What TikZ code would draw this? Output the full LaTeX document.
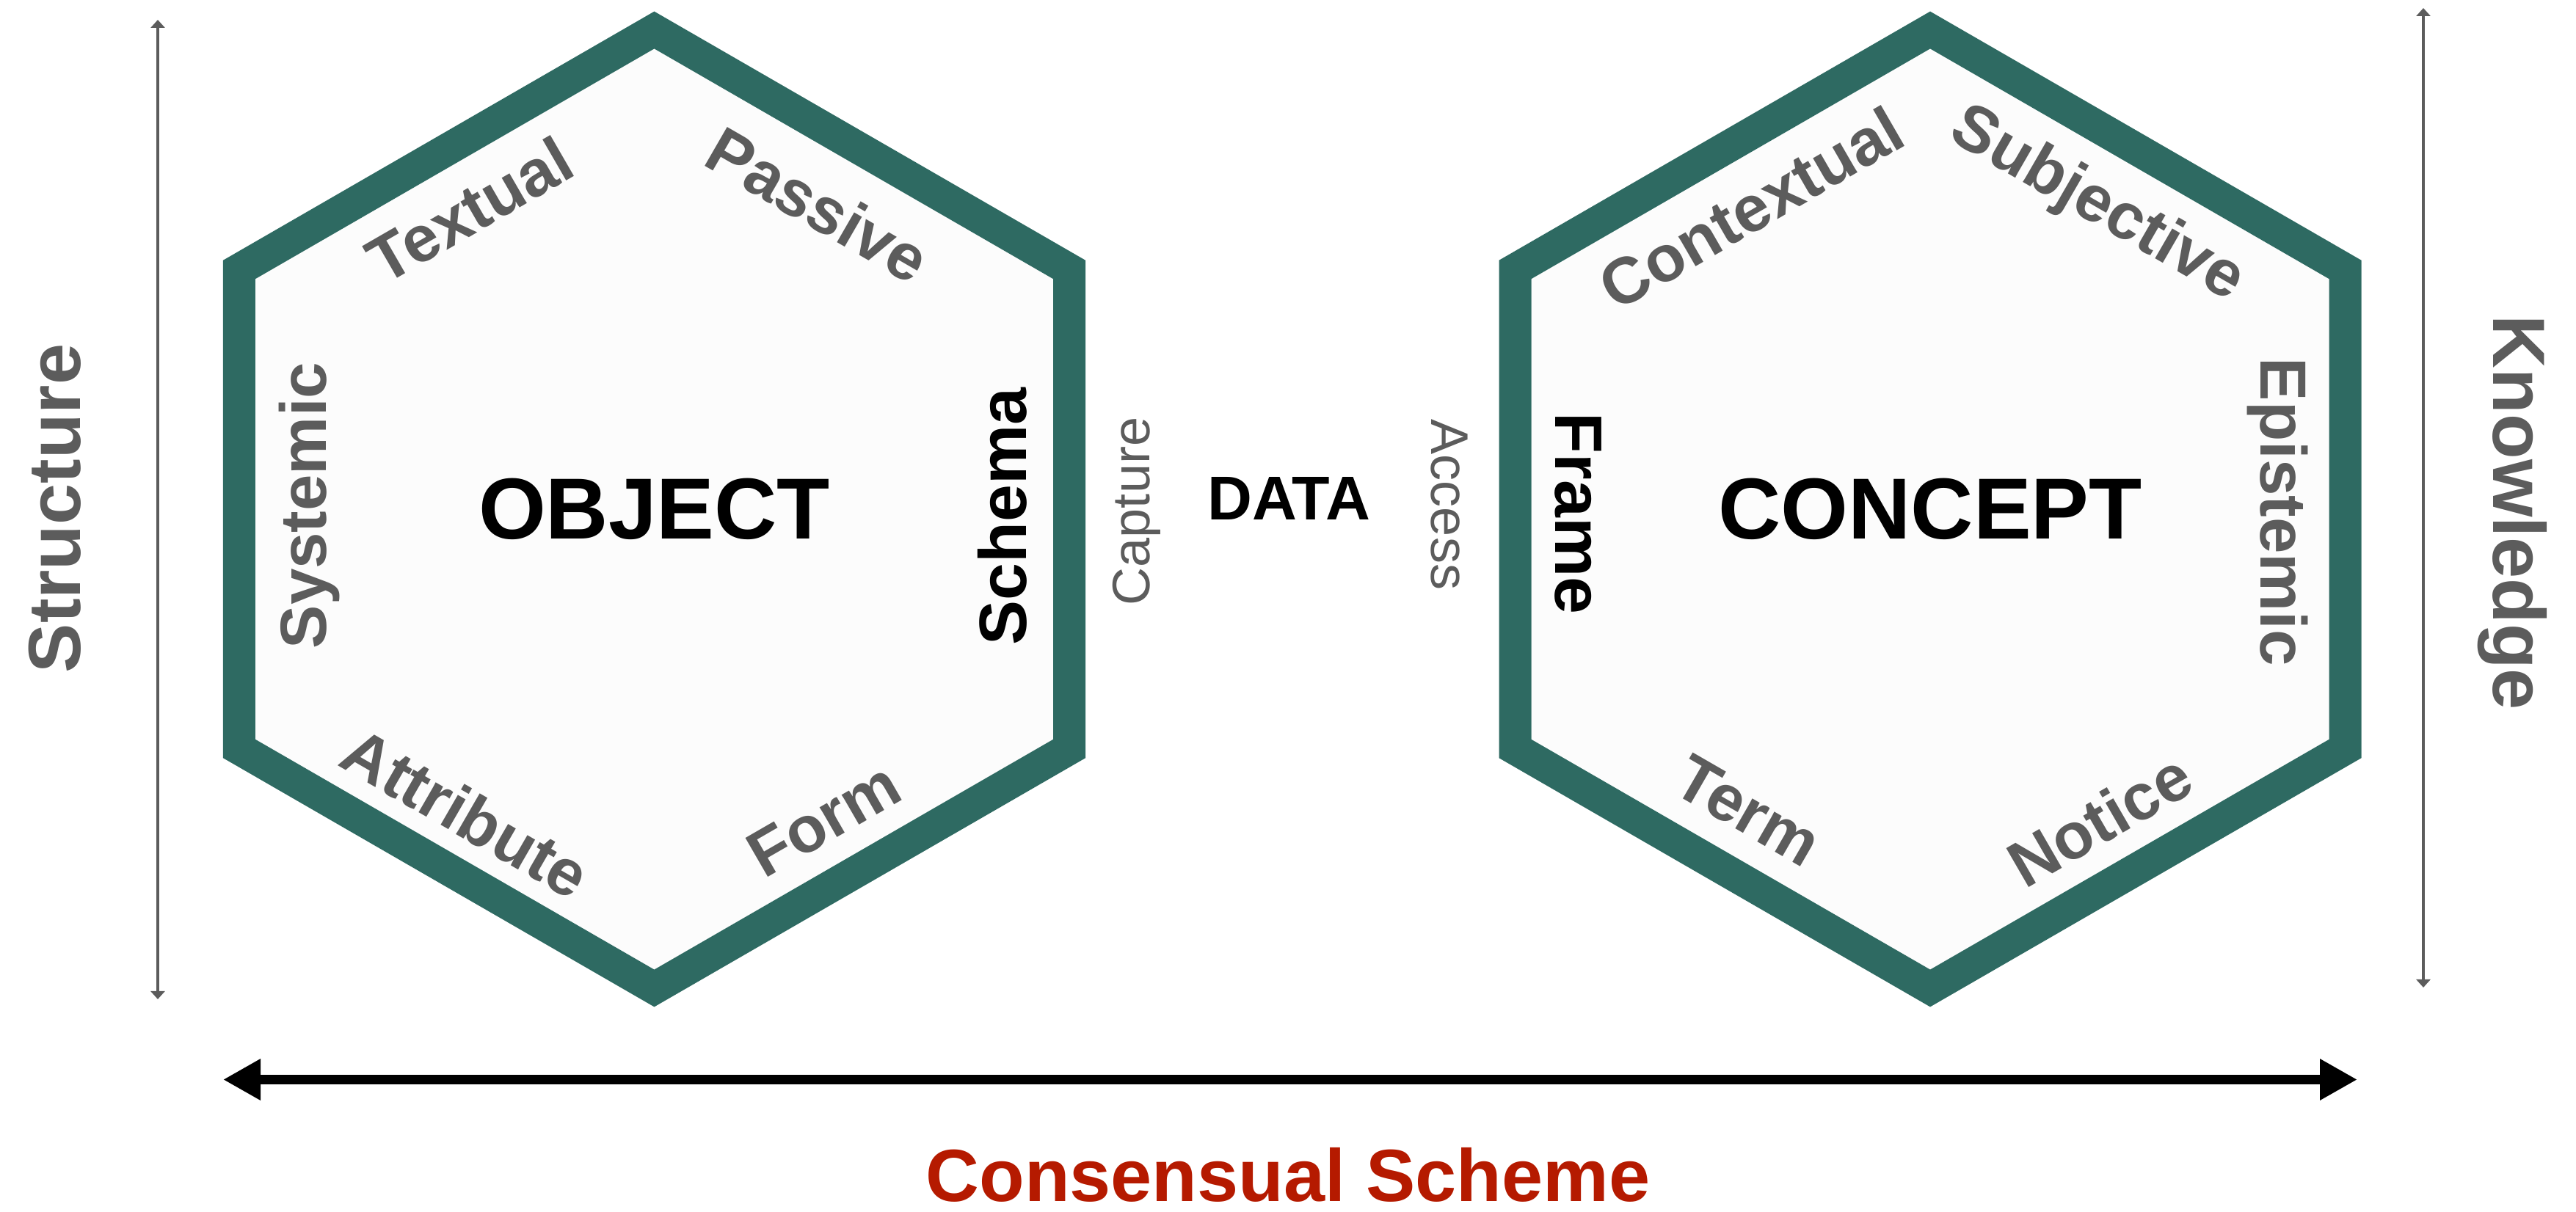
\documentclass[tikz,border=0pt]{standalone}
\usepackage{fontspec}
\setmainfont{Liberation Sans}
\usetikzlibrary{shapes.geometric, arrows.meta, calc, positioning}
\definecolor{hexgreen}{RGB}{46,106,98}
\definecolor{hexfill}{RGB}{252,252,252}
\definecolor{labelgray}{RGB}{92,92,92}
\definecolor{schemered}{RGB}{181,26,0}
\tikzstyle{hexagon} = [regular polygon, regular polygon sides=6, regular polygon rotate=30, minimum size=13.06cm, inner sep=0pt, line width=0.44cm, draw=hexgreen, fill=hexfill, font=\bfseries\fontsize{33.6pt}{40pt}\selectfont]
\tikzstyle{facet} = [inner sep=0pt, text=labelgray, font=\bfseries\fontsize{25.3pt}{30pt}\selectfont]
\tikzstyle{keyfacet} = [facet, text=black, font=\bfseries\fontsize{26pt}{31pt}\selectfont]
\tikzstyle{flow} = [inner sep=0pt, text=labelgray, font=\fontsize{20.5pt}{24pt}\selectfont]
\tikzstyle{axis} = [inner sep=0pt, text=labelgray, font=\bfseries\fontsize{28.7pt}{34pt}\selectfont]
\tikzstyle{thinarrow} = [line width=0.04cm, draw=labelgray, <->, >={Triangle[length=1.1mm, width=1.9mm]}]
\tikzstyle{thickarrow} = [line width=0.13cm, draw=black, <->, >={Triangle[length=5.1mm, width=5.3mm]}]

\begin{document}
\begin{tikzpicture}
		\useasboundingbox (0,0) rectangle (35.1,16.51);
		\node (ObjectHex) [hexagon] at (8.915,9.57) {OBJECT};
		\node (ConceptHex) [hexagon] at (26.30,9.57) {CONCEPT};
		\node (Textual) [facet, rotate=30] at ($(ObjectHex)+(-2.515,4.08)$) {Textual};
		\node (Passive) [facet, rotate=-30] at ($(ObjectHex)+(2.235,4.15)$) {Passive};
		\node (Systemic) [facet, rotate=90] at ($(ObjectHex)+(-4.70,0.05)$) {Systemic};
		\node (Schema) [keyfacet, rotate=90] at ($(ObjectHex)+(4.745,-0.10)$) {Schema};
		\node (Attribute) [facet, rotate=-30] at ($(ObjectHex)+(-2.565,-4.14)$) {Attribute};
		\node (Form) [facet, rotate=30] at ($(ObjectHex)+(2.315,-4.23)$) {Form};
		\node (Contextual) [facet, rotate=30] at ($(ConceptHex)+(-2.44,4.11)$) {Contextual};
		\node (Subjective) [facet, rotate=-30] at ($(ConceptHex)+(2.27,4.14)$) {Subjective};
		\node (Frame) [keyfacet, rotate=-90] at ($(ConceptHex)+(-4.80,-0.06)$) {Frame};
		\node (Epistemic) [facet, rotate=-90] at ($(ConceptHex)+(4.735,-0.04)$) {Epistemic};
		\node (Term) [facet, rotate=-30] at ($(ConceptHex)+(-2.48,-4.11)$) {Term};
		\node (Notice) [facet, rotate=30] at ($(ConceptHex)+(2.31,-4.23)$) {Notice};
		\node (Data) [inner sep=0pt, font=\bfseries\fontsize{24pt}{29pt}\selectfont] at (17.56,9.72) {DATA};
		\node (Capture) [flow, rotate=90] at (15.49,9.54) {Capture};
		\node (Access) [flow, rotate=-90] at (19.75,9.63) {Access};
		\node (Structure) [axis, rotate=90] at (0.75,9.58) {Structure};
		\node (Knowledge) [axis, rotate=-90] at (34.235,9.52) {Knowledge};
		\node (Scheme) [axis, text=schemered] at (17.55,0.50) {Consensual Scheme};
		\coordinate (StructureTop) at (2.15,16.24);
		\coordinate (StructureBottom) at (2.15,2.89);
		\coordinate (KnowledgeTop) at (33.02,16.40);
		\coordinate (KnowledgeBottom) at (33.02,3.05);
		\coordinate (SchemeLeft) at (3.04,1.795);
		\coordinate (SchemeRight) at (32.12,1.795);
		\draw [thinarrow] (StructureTop) -- (StructureBottom);
		\draw [thinarrow] (KnowledgeTop) -- (KnowledgeBottom);
		\draw [thickarrow] (SchemeLeft) -- (SchemeRight);
\end{tikzpicture}
\end{document}
